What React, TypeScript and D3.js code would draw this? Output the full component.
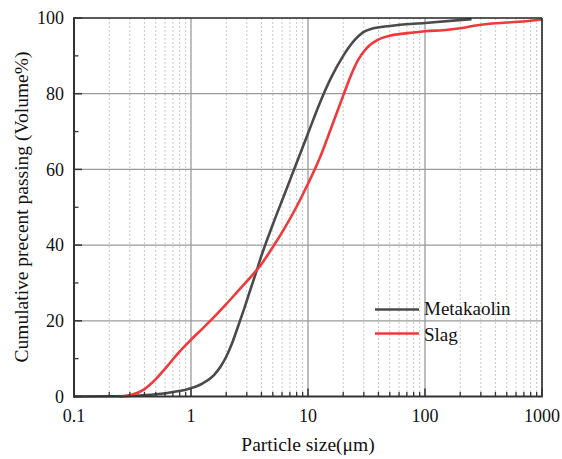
import React from "react";
import * as d3 from "d3";

const metakaolinSize = [0.1, 0.2, 0.316, 0.5, 0.71, 1, 1.26, 1.585, 1.78, 2.0, 2.24, 2.51, 2.82, 3.16, 3.55, 3.98, 5.01, 6.31, 7.94, 10, 12.6, 15.8, 20, 25.1, 29.5, 35.5, 50, 100, 250];
const metakaolinPass = [0, 0.05, 0.2, 0.6, 1.2, 2.2, 3.5, 5.8, 7.8, 10.5, 14, 18.3, 22.8, 27.5, 32.2, 37, 45.5, 53.5, 61.5, 69.5, 77.5, 84.3, 90, 94.2, 96.2, 97.2, 97.9, 98.7, 99.7];

const slagSize = [0.24, 0.282, 0.316, 0.398, 0.5, 0.63, 0.794, 1, 1.26, 1.585, 2.0, 2.51, 3.16, 3.98, 5.01, 6.31, 7.94, 10, 12.6, 15.8, 20, 23.4, 26.9, 31.6, 39.8, 50.1, 70.8, 100, 158, 200, 282, 398, 631, 1000];
const slagPass = [0, 0.2, 0.5, 1.9, 4.6, 8.1, 11.8, 15.0, 18.0, 21.1, 24.4, 27.8, 31.2, 34.9, 39.5, 44.5, 50.0, 56.2, 63.0, 71.0, 79.5, 85, 89, 92, 94.3, 95.3, 96.0, 96.5, 96.9, 97.3, 98.1, 98.6, 99.0, 99.6];

const xTicks = [0.1, 1, 10, 100, 1000];
const xTickLabels = ["0.1", "1", "10", "100", "1000"];
const yTicks = [0, 20, 40, 60, 80, 100];
const yMinorTicks = [10, 30, 50, 70, 90];

const seriesNames = ["Metakaolin", "Slag"];
const seriesColors = ["#4a4a4a", "#f0393b"];

export default function App() {
  const W = 562, H = 459;
  const L = 74, R = 542, T = 18, B = 396.5;
  const x = d3.scaleLog().domain([0.1, 1000]).range([L, R]);
  const y = d3.scaleLinear().domain([0, 100]).range([B, T]);

  const minorX: number[] = [];
  for (let dec = 0.1; dec < 1000; dec *= 10) {
    for (let k = 2; k <= 9; k++) minorX.push(+(dec * k).toPrecision(3));
  }

  const line = d3
    .line<[number, number]>()
    .x((d) => x(d[0]))
    .y((d) => y(d[1]))
    .curve(d3.curveMonotoneX);

  const mk: [number, number][] = metakaolinSize.map((s, i) => [s, metakaolinPass[i]]);
  const sl: [number, number][] = slagSize.map((s, i) => [s, slagPass[i]]);
  const font = "'Liberation Serif', 'Times New Roman', serif";

  return (
    <svg width={W} height={H} style={{ position: "absolute", left: 0, top: 0, background: "#fff" }} fontFamily={font}>
      {/* minor dotted gridlines */}
      {minorX.map((v, i) => (
        <line key={"mg" + i} x1={x(v)} x2={x(v)} y1={T} y2={B} stroke="#c8c8c8" strokeWidth={1} strokeDasharray="2,2" />
      ))}
      {/* major gridlines */}
      {xTicks.slice(1, -1).map((v, i) => (
        <line key={"gx" + i} x1={x(v)} x2={x(v)} y1={T} y2={B} stroke="#9a9a9a" strokeWidth={1.3} />
      ))}
      {yTicks.slice(1, -1).map((v, i) => (
        <line key={"gy" + i} x1={L} x2={R} y1={y(v)} y2={y(v)} stroke="#9a9a9a" strokeWidth={1.3} />
      ))}
      {/* curves */}
      <path d={line(mk) || ""} fill="none" stroke={seriesColors[0]} strokeWidth={2.6} strokeLinejoin="round" />
      <path d={line(sl) || ""} fill="none" stroke={seriesColors[1]} strokeWidth={2.6} strokeLinejoin="round" />
      {/* frame */}
      <line x1={L} x2={R} y1={T} y2={T} stroke="#222" strokeWidth={1.6} />
      <line x1={R} x2={R} y1={T} y2={B} stroke="#222" strokeWidth={1.6} />
      <line x1={L} x2={L} y1={T - 0.8} y2={B + 1} stroke="#333" strokeWidth={2} />
      <line x1={L - 1} x2={R + 0.8} y1={B} y2={B} stroke="#333" strokeWidth={2} />
      {/* bottom ticks */}
      {xTicks.map((v, i) => (
        <line key={"xt" + i} x1={x(v)} x2={x(v)} y1={B} y2={B - 8} stroke="#333" strokeWidth={1.5} />
      ))}
      {minorX.map((v, i) => (
        <line key={"xm" + i} x1={x(v)} x2={x(v)} y1={B} y2={B - 4.5} stroke="#333" strokeWidth={1.3} />
      ))}
      {/* left ticks */}
      {yTicks.map((v, i) => (
        <line key={"yt" + i} x1={L} x2={L + 8} y1={y(v)} y2={y(v)} stroke="#333" strokeWidth={1.5} />
      ))}
      {yMinorTicks.map((v, i) => (
        <line key={"ym" + i} x1={L} x2={L + 4.5} y1={y(v)} y2={y(v)} stroke="#333" strokeWidth={1.3} />
      ))}
      {/* tick labels */}
      {xTicks.map((v, i) => (
        <text key={"xl" + i} x={x(v)} y={421.5} textAnchor="middle" fontSize={18} fill="#111">
          {xTickLabels[i]}
        </text>
      ))}
      {yTicks.map((v, i) => (
        <text key={"yl" + i} x={64} y={y(v) + 6.2} textAnchor="end" fontSize={18} fill="#111">
          {v}
        </text>
      ))}
      {/* axis titles */}
      <text x={308} y={451} textAnchor="middle" fontSize={19.5} fill="#111">
        Particle size(μm)
      </text>
      <text transform="translate(28,207) rotate(-90)" textAnchor="middle" fontSize={19.5} fill="#111">
        Cumulative precent passing (Volume%)
      </text>
      {/* legend */}
      {seriesNames.map((n, i) => (
        <g key={"lg" + i}>
          <line x1={375} x2={419} y1={309.5 + i * 24} y2={309.5 + i * 24} stroke={seriesColors[i]} strokeWidth={2.6} />
          <text x={424} y={315 + i * 25.5} fontSize={19} fill="#111">
            {n}
          </text>
        </g>
      ))}
    </svg>
  );
}
